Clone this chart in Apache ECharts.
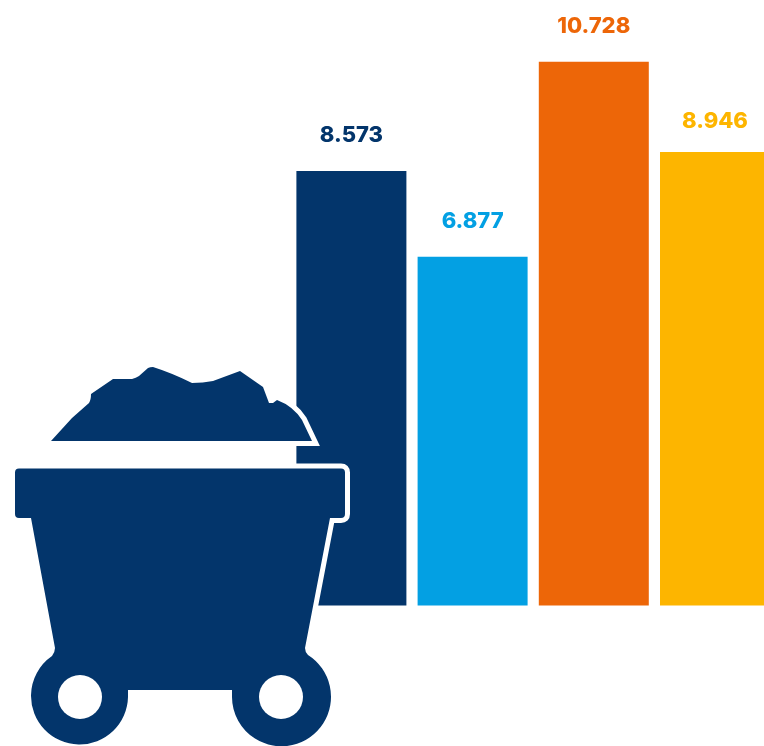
<!DOCTYPE html>
<html>
<head>
<meta charset="utf-8">
<style>
html, body { margin: 0; padding: 0; background: #fff; overflow: hidden; }
#chart { width: 764px; height: 746px; }
</style>
<script src="https://cdn.jsdelivr.net/npm/echarts@6/dist/echarts.min.js"></script>
</head>
<body>
<div id="chart"></div>
<script>
const categories = ['A', 'B', 'C', 'D']
const values = [8.573, 6.877, 10.728, 8.946]
const labels = ['8.573', '6.877', '10.728', '8.946']
const colors = ['#03356b', '#03a0e3', '#ed6608', '#fdb500']

// mine cart icon, drawn over the first bar
const orePath = 'M51 441 L72 418 L89 403 Q91 400 91 394 L113 379 L132 379 Q136 378 139 376 L148 368 Q150 367 153 367 Q172 373 192 383 Q203 383 213 381 L240 371 L263 387 L269 403 L273 403 L277 400 Q293 406 302 420 L312 441 Z'
const cartPath = 'M19 468.5 H341 Q345 468.5 345 472.5 V514 Q345 518 341 518 H330 L305 648 Q305 652 308 655 A49.5 49.5 0 1 1 232 697 V690 H128 V697 A48.5 48.5 0 1 1 52 656 Q55 652 55 648 L31 518 H19 Q15 518 15 514 V472.5 Q15 468.5 19 468.5 Z'
const navy = '#03356b'

echarts.graphic.registerShape('ore', echarts.graphic.extendPath(orePath))
echarts.graphic.registerShape('cart', echarts.graphic.extendPath(cartPath))

const chart = echarts.init(document.getElementById('chart'))
chart.setOption({
    animation: false,
    // last bar runs off the right edge in the original
    grid: { left: 290.8, top: 22.5, width: 484.8, height: 583, outerBoundsMode: 'none' },
    xAxis: { type: 'category', data: categories, show: false },
    yAxis: { type: 'value', min: 0, max: 11.5, show: false },
    series: [{
        type: 'bar',
        barWidth: 110,
        data: values.map((v, i) => ({
            value: v,
            itemStyle: { color: colors[i] },
            label: { color: colors[i], formatter: labels[i], distance: i === 3 ? 20 : 24 }
        })),
        label: {
            show: true,
            position: 'top',
            fontFamily: 'Inter',
            fontWeight: 800,
            fontSize: 22
        }
    }],
    graphic: [
        { type: 'ore', z: 10, style: { fill: '#fff', stroke: '#fff', lineWidth: 10 } },
        { type: 'cart', z: 10, style: { fill: '#fff', stroke: '#fff', lineWidth: 10 } },
        { type: 'ore', z: 11, style: { fill: navy } },
        { type: 'cart', z: 11, style: { fill: navy } },
        { type: 'circle', z: 12, shape: { cx: 80, cy: 697, r: 22 }, style: { fill: '#fff' } },
        { type: 'circle', z: 12, shape: { cx: 281, cy: 697, r: 22 }, style: { fill: '#fff' } }
    ]
})
</script>
</body>
</html>
